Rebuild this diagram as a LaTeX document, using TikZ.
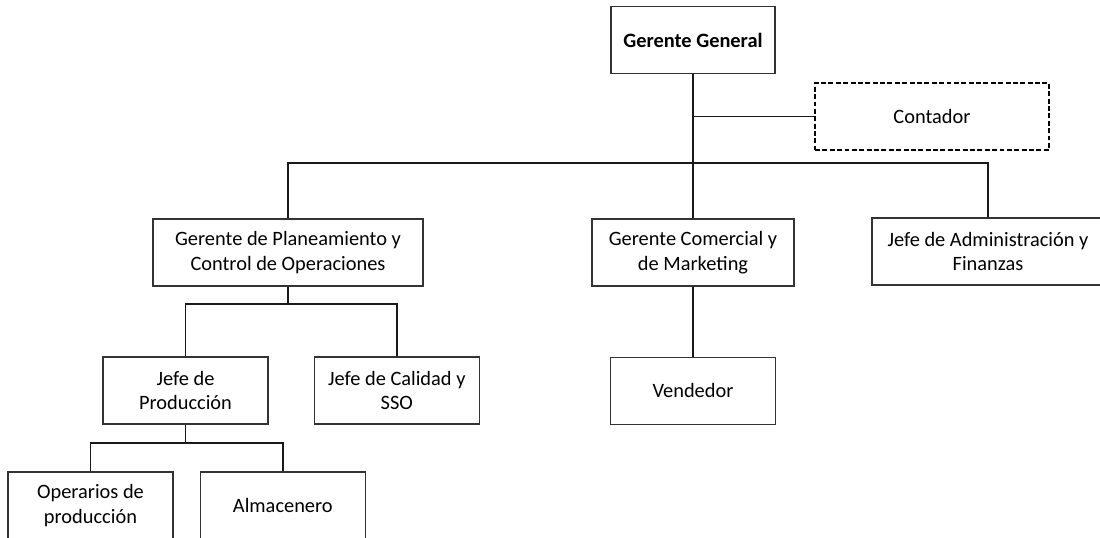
\documentclass[tikz,border=0pt]{standalone}
\usepackage{fontspec}
\setmainfont{Carlito}
\usepackage{tikz}
\usetikzlibrary{positioning}

\begin{document}
\begin{tikzpicture}[
  font = \fontsize{11.6}{14.2}\selectfont,
  box/.style     = {rectangle, draw=black!80, line width=0.75pt,
                    minimum width=3.3cm, minimum height=1.34cm,
                    inner xsep=1pt, align=center},
  dashbox/.style = {box, draw=black, line width=1.5pt,
                    dash pattern=on 2.8pt off 1.4pt},
  conn/.style    = {draw=black!90, line width=0.8pt},
]
\useasboundingbox (0,0) rectangle (22,-10.74);

\node[box, minimum width=3.28cm, font=\fontsize{11.6}{14.2}\selectfont\bfseries]
      (gg)   at (13.86,-0.80) {Gerente General};
\node[dashbox, minimum width=4.68cm] (cont) at (18.64,-2.33) {Contador};
\node[box, minimum width=5.4cm]  (plan) at (5.76,-5.05)  {Gerente de Planeamiento y\\Control de Operaciones};
\node[box, minimum width=4.04cm] (com)  at (13.86,-5.05) {Gerente Comercial y\\de Marketing};
\node[box, minimum width=4.64cm] (adm)  at (19.76,-5.03) {Jefe de Administración y\\Finanzas};
\node[box] (prod) at (3.71,-7.81)        {Jefe de\\Producción};
\node[box, right=0.9cm of prod] (cal)    {Jefe de Calidad y\\SSO};
\node[box, below=1.4cm of com]  (vend)   {Vendedor};
\node[box] (oper) at (1.81,-10.11)       {Operarios de\\producción};
\node[box, right=0.52cm of oper] (alm)   {Almacenero};

\coordinate (bus1) at (0,-3.26);
\coordinate (bus2) at (0,-6.08);
\coordinate (bus3) at (0,-8.86);

\draw[conn] (gg.south) -- (com.north);
\draw[conn] (gg.south |- cont.west) -- (cont.west);
\draw[conn] (plan.north) |- (bus1 -| adm.north) -- (adm.north);
\draw[conn] (plan.south) -- (plan.south |- bus2);
\draw[conn] (prod.north) |- (bus2 -| cal.north) -- (cal.north);
\draw[conn] (com.south) -- (vend.north);
\draw[conn] (prod.south) -- (prod.south |- bus3);
\draw[conn] (oper.north) |- (bus3 -| alm.north) -- (alm.north);
\end{tikzpicture}
\end{document}
